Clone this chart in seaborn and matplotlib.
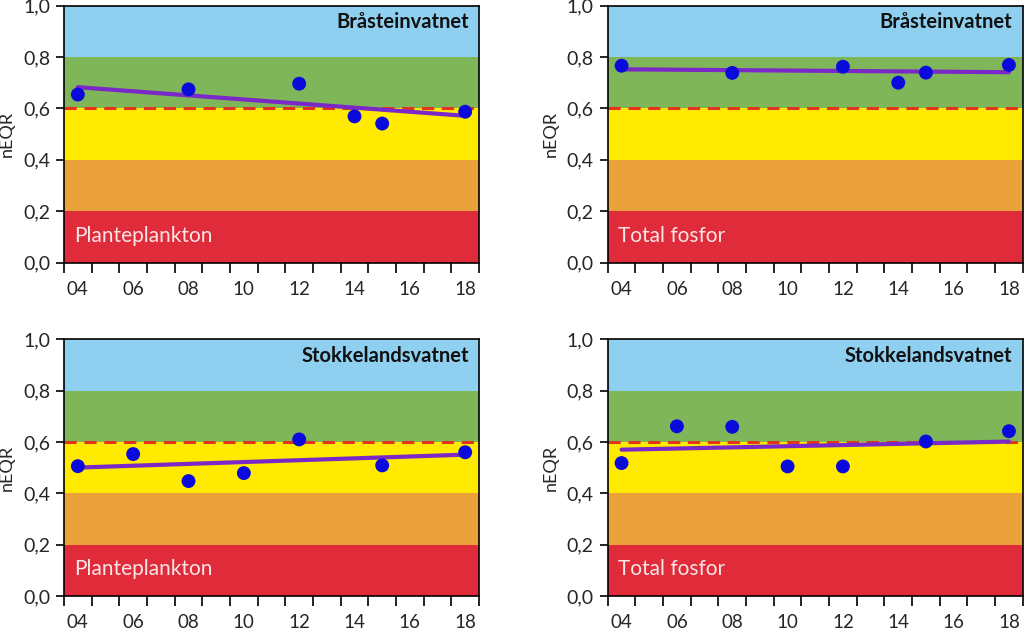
"""
nEQR trend plots for Bråsteinvatnet and Stokkelandsvatnet
(planteplankton and total fosfor), with class bands.
"""

import numpy as np
import pandas as pd
import matplotlib
matplotlib.use("Agg")
import matplotlib.pyplot as plt
import seaborn as sns
from matplotlib.ticker import FixedLocator, FuncFormatter

# ── Data ──────────────────────────────────────────────────────────────────────
lakes = ["Bråsteinvatnet", "Stokkelandsvatnet"]
params = ["Planteplankton", "Total fosfor"]

bras_years = [2004, 2008, 2012, 2014, 2015, 2018]
bras_plankton = [0.654, 0.674, 0.696, 0.569, 0.541, 0.587]
bras_fosfor = [0.766, 0.738, 0.762, 0.700, 0.739, 0.769]

stok_years = [2004, 2006, 2008, 2010, 2012, 2015, 2018]
stok_plankton = [0.506, 0.553, 0.448, 0.479, 0.610, 0.509, 0.560]
stok_fosfor = [0.518, 0.661, 0.659, 0.505, 0.505, 0.602, 0.642]

# class limits (nEQR) and colours, bottom to top
class_limits = [0.0, 0.2, 0.4, 0.6, 0.8, 1.0]
class_colors = ["#E02B3A", "#ECA23A", "#FFEA00", "#80B65A", "#8FD0F0"]
good_limit = 0.6

year_labels = ["04", "06", "08", "10", "12", "14", "16", "18"]

panels = [
    (0, 0, lakes[0], params[0], bras_years, bras_plankton),
    (0, 1, lakes[0], params[1], bras_years, bras_fosfor),
    (1, 0, lakes[1], params[0], stok_years, stok_plankton),
    (1, 1, lakes[1], params[1], stok_years, stok_fosfor),
]

# ── Plot ──────────────────────────────────────────────────────────────────────
sns.set_theme(style="ticks")
plt.rcParams["font.family"] = ["Lato", "DejaVu Sans"]

fig = plt.figure(figsize=(10.24, 6.28), dpi=100)
lefts = [0.0625, 0.5935]
bottoms = [0.5817, 0.0505]
w, h = 0.4053, 0.4095


def draw_panel(ax, lake, param, years, values):
    df = pd.DataFrame({"year": years, "nEQR": values})

    for lo, hi, col in zip(class_limits[:-1], class_limits[1:], class_colors):
        ax.axhspan(lo, hi, color=col, lw=0, zorder=0)
    ax.axhline(good_limit, color="#E2361C", lw=2.2, ls=(0, (4, 2.5)), zorder=1)

    sns.regplot(data=df, x="year", y="nEQR", ax=ax, ci=None, truncate=True,
                scatter=False, line_kws={"color": "#7A28C8", "lw": 3,
                                          "zorder": 2})
    sns.scatterplot(data=df, x="year", y="nEQR", ax=ax, color="#0A0ADC",
                    s=100, edgecolor="none", zorder=3)

    ax.set_xlim(2003.5, 2018.5)
    ax.set_ylim(0, 1)

    # tick marks on year boundaries, labels on every second year
    ax.xaxis.set_major_locator(FixedLocator(np.arange(2003.5, 2019, 1.0)))
    ax.xaxis.set_major_formatter(FuncFormatter(lambda v, p: ""))
    ax.xaxis.set_minor_locator(FixedLocator(np.arange(2004, 2019, 2)))
    ax.set_xticklabels(year_labels, minor=True)
    ax.tick_params(axis="x", which="major", length=7, width=1.2,
                   direction="out", color="black")
    ax.tick_params(axis="x", which="minor", length=0, labelsize=13.5, pad=13)

    ax.set_yticks(class_limits)
    ax.yaxis.set_major_formatter(
        FuncFormatter(lambda v, p: f"{v:.1f}".replace(".", ",")))
    ax.tick_params(axis="y", length=6, width=1.2, labelsize=14,
                   direction="out", color="black", pad=4)

    ax.set_xlabel("")
    ax.set_ylabel("nEQR", fontsize=13, va="center")
    ax.yaxis.set_label_coords(-0.138, 0.5)

    for s in ax.spines.values():
        s.set_color("black")
        s.set_linewidth(1.2)
        s.set_zorder(5)

    ax.text(0.975, 0.935, lake, transform=ax.transAxes, ha="right",
            va="center", fontsize=14.5, fontweight="bold", color="#111111")
    ax.text(0.025, 0.105, param, transform=ax.transAxes, ha="left",
            va="center", fontsize=15, color="#F8E6E6")


for row, col, lake, param, years, values in panels:
    ax = fig.add_axes([lefts[col], bottoms[row], w, h])
    draw_panel(ax, lake, param, years, values)

fig.savefig("out.png", dpi=100)
